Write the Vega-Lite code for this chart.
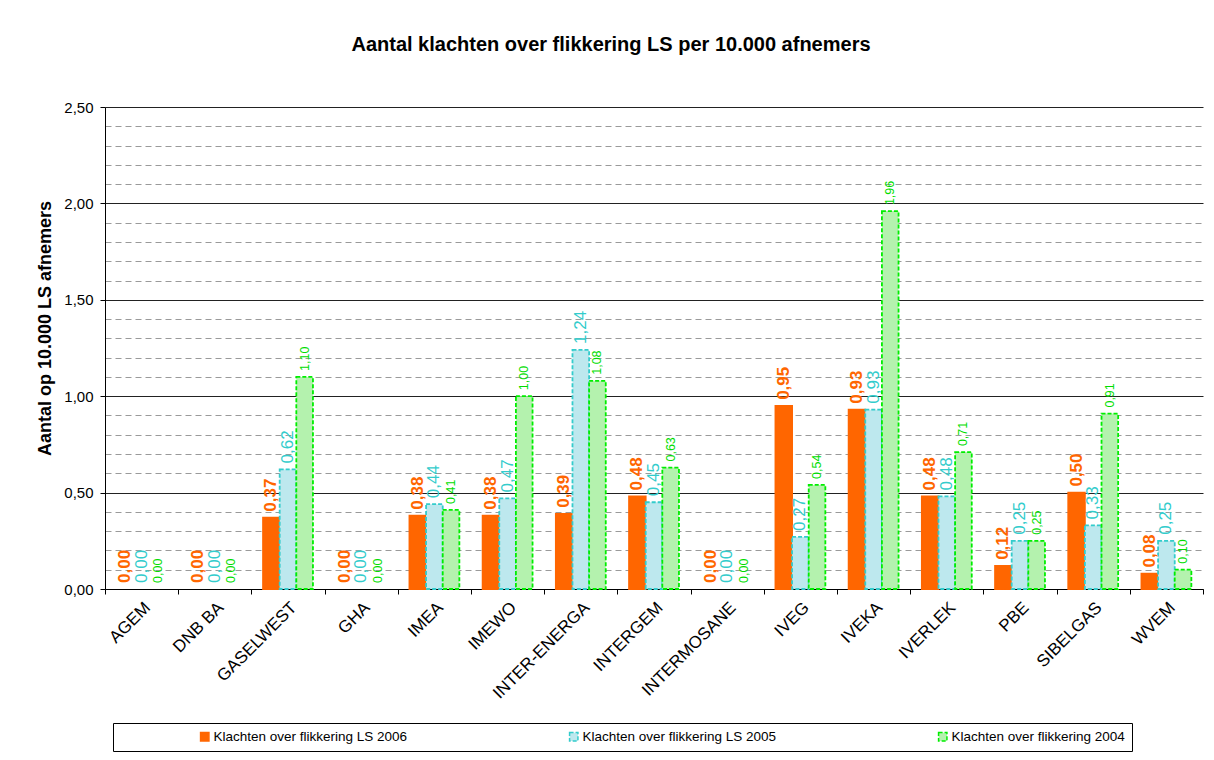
{
  "$schema": "https://vega.github.io/schema/vega-lite/v6.json",
  "width": 1098,
  "height": 482,
  "autosize": {"type": "none"},
  "padding": {"left": 105, "top": 107, "right": 11, "bottom": 171},
  "background": "white",
  "config": {
    "locale": {"number": {"decimal": ",", "thousands": ".", "grouping": [3], "currency": ["€", ""]}},
    "font": "Liberation Sans",
    "view": {"stroke": null}
  },
  "title": {
    "text": "Aantal klachten over flikkering LS per 10.000 afnemers",
    "font": "Liberation Sans",
    "fontSize": 20,
    "fontWeight": "bold",
    "color": "#000000",
    "anchor": "middle",
    "dx": -43,
    "offset": 45
  },
  "data": {
    "values": [
      {"company": "AGEM", "Klachten over flikkering LS 2006": 0.00, "Klachten over flikkering LS 2005": 0.00, "Klachten over flikkering 2004": 0.00},
      {"company": "DNB BA", "Klachten over flikkering LS 2006": 0.00, "Klachten over flikkering LS 2005": 0.00, "Klachten over flikkering 2004": 0.00},
      {"company": "GASELWEST", "Klachten over flikkering LS 2006": 0.37, "Klachten over flikkering LS 2005": 0.62, "Klachten over flikkering 2004": 1.10},
      {"company": "GHA", "Klachten over flikkering LS 2006": 0.00, "Klachten over flikkering LS 2005": 0.00, "Klachten over flikkering 2004": 0.00},
      {"company": "IMEA", "Klachten over flikkering LS 2006": 0.38, "Klachten over flikkering LS 2005": 0.44, "Klachten over flikkering 2004": 0.41},
      {"company": "IMEWO", "Klachten over flikkering LS 2006": 0.38, "Klachten over flikkering LS 2005": 0.47, "Klachten over flikkering 2004": 1.00},
      {"company": "INTER-ENERGA", "Klachten over flikkering LS 2006": 0.39, "Klachten over flikkering LS 2005": 1.24, "Klachten over flikkering 2004": 1.08},
      {"company": "INTERGEM", "Klachten over flikkering LS 2006": 0.48, "Klachten over flikkering LS 2005": 0.45, "Klachten over flikkering 2004": 0.63},
      {"company": "INTERMOSANE", "Klachten over flikkering LS 2006": 0.00, "Klachten over flikkering LS 2005": 0.00, "Klachten over flikkering 2004": 0.00},
      {"company": "IVEG", "Klachten over flikkering LS 2006": 0.95, "Klachten over flikkering LS 2005": 0.27, "Klachten over flikkering 2004": 0.54},
      {"company": "IVEKA", "Klachten over flikkering LS 2006": 0.93, "Klachten over flikkering LS 2005": 0.93, "Klachten over flikkering 2004": 1.96},
      {"company": "IVERLEK", "Klachten over flikkering LS 2006": 0.48, "Klachten over flikkering LS 2005": 0.48, "Klachten over flikkering 2004": 0.71},
      {"company": "PBE", "Klachten over flikkering LS 2006": 0.12, "Klachten over flikkering LS 2005": 0.25, "Klachten over flikkering 2004": 0.25},
      {"company": "SIBELGAS", "Klachten over flikkering LS 2006": 0.50, "Klachten over flikkering LS 2005": 0.33, "Klachten over flikkering 2004": 0.91},
      {"company": "WVEM", "Klachten over flikkering LS 2006": 0.08, "Klachten over flikkering LS 2005": 0.25, "Klachten over flikkering 2004": 0.10}
    ]
  },
  "transform": [
    {"fold": ["Klachten over flikkering LS 2006", "Klachten over flikkering LS 2005", "Klachten over flikkering 2004"], "as": ["series", "value"]}
  ],
  "encoding": {
    "x": {
      "field": "company",
      "type": "nominal",
      "sort": ["AGEM", "DNB BA", "GASELWEST", "GHA", "IMEA", "IMEWO", "INTER-ENERGA", "INTERGEM", "INTERMOSANE", "IVEG", "IVEKA", "IVERLEK", "PBE", "SIBELGAS", "WVEM"],
      "scale": {"paddingInner": 0, "paddingOuter": 0},
      "axis": {
        "title": null,
        "labelAngle": -45,
        "labelFontSize": 17,
        "labelColor": "#000000",
        "labelPadding": 5,
        "tickBand": "extent",
        "tickSize": 5,
        "tickColor": "#000000",
        "domainColor": "#000000",
        "grid": false
      }
    },
    "xOffset": {
      "field": "series",
      "type": "nominal",
      "sort": ["Klachten over flikkering LS 2006", "Klachten over flikkering LS 2005", "Klachten over flikkering 2004"],
      "scale": {"paddingInner": 0, "paddingOuter": 0.7}
    },
    "y": {
      "field": "value",
      "type": "quantitative",
      "scale": {"domain": [0, 2.5], "nice": false},
      "axis": {
        "title": "Aantal op 10.000 LS afnemers",
        "titleFontSize": 18,
        "titleFontWeight": "bold",
        "titleColor": "#000000",
        "titlePadding": 9,
        "titleY": 221,
        "values": [0, 0.1, 0.2, 0.3, 0.4, 0.5, 0.6, 0.7, 0.8, 0.9, 1.0, 1.1, 1.2, 1.3, 1.4, 1.5, 1.6, 1.7, 1.8, 1.9, 2.0, 2.1, 2.2, 2.3, 2.4, 2.5],
        "format": ".2f",
        "labelExpr": "round(datum.value * 10) % 5 === 0 ? datum.label : ''",
        "labelFontSize": 15,
        "labelColor": "#000000",
        "labelPadding": 7,
        "domainColor": "#000000",
        "tickColor": "#000000",
        "tickSize": {"condition": {"test": "round(datum.value * 10) % 5 === 0", "value": 5}, "value": 0},
        "grid": true,
        "gridColor": {"condition": {"test": "round(datum.value * 10) % 5 === 0", "value": "#222222"}, "value": "#9a9a9a"},
        "gridDash": {"condition": {"test": "round(datum.value * 10) % 5 === 0", "value": []}, "value": [6, 4]},
        "gridWidth": 1
      }
    }
  },
  "layer": [
    {
      "transform": [{"filter": "datum.value > 0"}],
      "mark": {"type": "bar", "strokeWidth": 1.8},
      "encoding": {
        "fill": {
          "field": "series",
          "type": "nominal",
          "title": null,
          "scale": {
            "domain": ["Klachten over flikkering LS 2006", "Klachten over flikkering LS 2005", "Klachten over flikkering 2004"],
            "range": ["#FF6600", "#BDE8EE", "#B4F2AE"]
          },
          "legend": {
            "orient": "none",
            "legendX": 8,
            "legendY": 616,
            "direction": "horizontal",
            "columns": 3,
            "padding": 7,
            "symbolOffset": 78,
            "columnPadding": 81,
            "strokeColor": "#000000",
            "fillColor": "#ffffff",
            "symbolType": "square",
            "symbolSize": 70,
            "symbolStrokeWidth": 1.5,
            "labelFontSize": 13.5,
            "labelColor": "#000000",
            "labelOffset": 2,
            "labelLimit": 400
          }
        },
        "stroke": {
          "field": "series",
          "type": "nominal",
          "title": null,
          "scale": {
            "domain": ["Klachten over flikkering LS 2006", "Klachten over flikkering LS 2005", "Klachten over flikkering 2004"],
            "range": ["#FF6600", "#33CCCC", "#00EE00"]
          }
        },
        "strokeDash": {
          "field": "series",
          "type": "nominal",
          "title": null,
          "scale": {
            "domain": ["Klachten over flikkering LS 2006", "Klachten over flikkering LS 2005", "Klachten over flikkering 2004"],
            "range": [[1, 0], [4, 2], [4, 2]]
          }
        }
      }
    },
    {
      "transform": [{"filter": "datum.series === 'Klachten over flikkering LS 2006'"}],
      "mark": {"type": "text", "angle": 270, "align": "left", "baseline": "middle", "dx": 6, "fontSize": 17, "fontWeight": "bold", "color": "#FF6600"},
      "encoding": {"text": {"field": "value", "type": "quantitative", "format": ".2f"}}
    },
    {
      "transform": [{"filter": "datum.series === 'Klachten over flikkering LS 2005'"}],
      "mark": {"type": "text", "angle": 270, "align": "left", "baseline": "middle", "dx": 6, "fontSize": 17, "color": "#33CCCC"},
      "encoding": {"text": {"field": "value", "type": "quantitative", "format": ".2f"}}
    },
    {
      "transform": [{"filter": "datum.series === 'Klachten over flikkering 2004'"}],
      "mark": {"type": "text", "angle": 270, "align": "left", "baseline": "middle", "dx": 6, "fontSize": 12.5, "color": "#00DD00"},
      "encoding": {"text": {"field": "value", "type": "quantitative", "format": ".2f"}}
    }
  ]
}
